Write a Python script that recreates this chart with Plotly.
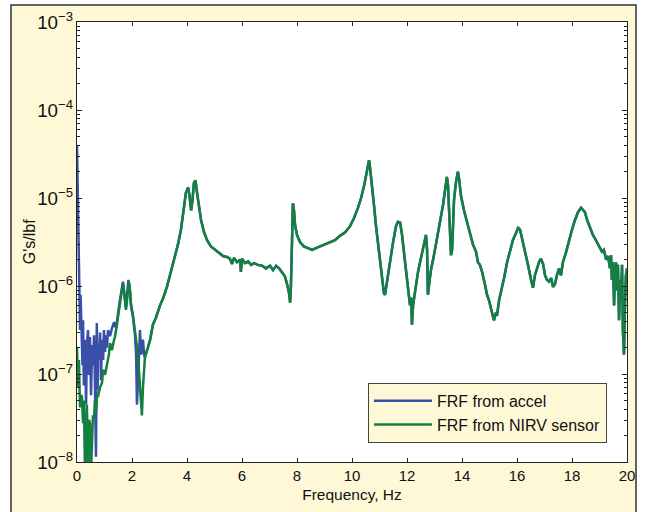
import numpy as np
import plotly.graph_objects as go

# ---- data (magnitudes given as log10 of G's/lbf) ----
# low-frequency part of the accelerometer FRF
accel_lo_freq = [0.0, 0.01, 0.02, 0.04, 0.05, 0.07, 0.09, 0.11, 0.13, 0.15, 0.18, 0.2, 0.22, 0.25,
                 0.29, 0.33, 0.36, 0.4, 0.44, 0.47, 0.51, 0.55, 0.58, 0.62, 0.65, 0.69, 0.72, 0.75,
                 0.76, 0.8, 0.84, 0.87, 0.91, 0.95, 0.98, 1.02, 1.05, 1.09, 1.13, 1.2, 1.27, 1.35,
                 1.42, 1.49, 1.56, 1.64, 1.67, 1.71, 1.75, 1.78, 1.82, 1.87, 1.93, 1.96, 2.04, 2.11,
                 2.15, 2.18, 2.22, 2.25, 2.29, 2.33, 2.36, 2.4, 2.44]
accel_lo_log = [-4.40, -4.57, -5.02, -5.48, -5.39, -5.82, -6.16, -6.5, -6.10, -6.39, -6.67, -6.90, -6.39, -7.13,
                -6.61, -7.35, -6.67, -6.5, -7.01, -6.58, -7.24, -6.67, -6.90, -6.56, -7.07, -7.94, -6.42, -7.18,
                -6.67, -6.84, -6.53, -7.07, -6.61, -6.84, -6.5, -6.75, -6.56, -6.70, -6.5, -6.57, -6.48, -6.41,
                -6.48, -6.30, -6.16, -6.01, -5.95, -6.07, -6.22, -6.25, -6.10, -5.93, -6.07, -6.22, -6.36, -6.56,
                -6.78, -7.35, -7.07, -6.73, -6.5, -6.78, -6.67, -6.61, -6.78]

# low-frequency part of the NIRV sensor FRF
nirv_lo_freq = [0.0, 0.02, 0.04, 0.07, 0.11, 0.15, 0.18, 0.22, 0.25, 0.29, 0.33, 0.36, 0.4, 0.44,
                0.47, 0.51, 0.55, 0.58, 0.62, 0.65, 0.69, 0.73, 0.76, 0.84, 0.91, 0.95, 1.02, 1.09,
                1.16, 1.2, 1.27, 1.35, 1.38, 1.45, 1.49, 1.56, 1.64, 1.67, 1.71, 1.75, 1.78, 1.82,
                1.85, 1.89, 1.93, 1.96, 2.04, 2.11, 2.18, 2.25, 2.29, 2.33, 2.36, 2.4, 2.44]
nirv_lo_log = [-6.69, -7.07, -7.15, -6.84, -7.38, -7.24, -7.26, -7.56, -7.30, -8.1, -7.64, -7.35, -8.1, -7.52,
               -7.56, -8.1, -7.75, -7.47, -7.52, -7.30, -7.44, -7.24, -7.26, -7.15, -7.10, -6.95, -7.01, -6.88,
               -6.78, -6.65, -6.73, -6.61, -6.58, -6.44, -6.35, -6.19, -6.05, -5.97, -6.05, -6.19, -6.27, -6.16,
               -6.02, -5.95, -6.05, -6.19, -6.35, -6.5, -6.69, -6.95, -7.18, -7.33, -7.47, -7.15, -6.90]

# above ~2.5 Hz both FRFs coincide
common_freq = [2.47, 2.55, 2.66, 2.76, 2.87, 3.02, 3.13, 3.27, 3.42, 3.56, 3.67, 3.78, 3.89, 3.96,
               4.04, 4.09, 4.15, 4.2, 4.25, 4.31, 4.36, 4.44, 4.51, 4.62, 4.73, 4.87, 5.02, 5.16,
               5.31, 5.45, 5.56, 5.64, 5.71, 5.82, 5.93, 5.96, 6.0, 6.11, 6.22, 6.33, 6.44, 6.58,
               6.73, 6.87, 7.02, 7.13, 7.24, 7.35, 7.45, 7.56, 7.64, 7.71, 7.75, 7.78, 7.82, 7.85,
               7.89, 7.93, 8.0, 8.11, 8.25, 8.4, 8.55, 8.69, 8.84, 9.02, 9.2, 9.38, 9.56, 9.75,
               9.93, 10.07, 10.22, 10.33, 10.44, 10.51, 10.58, 10.62, 10.65, 10.73, 10.8, 10.87, 10.95, 11.02,
               11.09, 11.16, 11.2, 11.27, 11.38, 11.49, 11.6, 11.67, 11.75, 11.82, 11.93, 12.04, 12.11, 12.15,
               12.18, 12.22, 12.29, 12.4, 12.51, 12.62, 12.69, 12.73, 12.76, 12.8, 12.87, 12.98, 13.09, 13.2,
               13.31, 13.38, 13.45, 13.49, 13.53, 13.56, 13.6, 13.64, 13.67, 13.71, 13.78, 13.85, 13.89, 13.96,
               14.07, 14.18, 14.29, 14.4, 14.51, 14.58, 14.65, 14.73, 14.84, 14.91, 14.98, 15.05, 15.13, 15.16,
               15.24, 15.27, 15.35, 15.42, 15.53, 15.64, 15.75, 15.85, 15.96, 16.04, 16.11, 16.18, 16.29, 16.4,
               16.51, 16.58, 16.65, 16.73, 16.8, 16.87, 16.95, 17.02, 17.09, 17.16, 17.24, 17.31, 17.38, 17.45,
               17.53, 17.6, 17.67, 17.78, 17.89, 18.0, 18.11, 18.22, 18.33, 18.4, 18.47, 18.55, 18.65, 18.76,
               18.87, 18.98, 19.09, 19.16, 19.24, 19.31, 19.38, 19.42, 19.45, 19.49, 19.53, 19.56, 19.6, 19.64,
               19.67, 19.71, 19.75, 19.78, 19.82, 19.85, 19.89, 19.93, 19.96, 20.0]
common_log = [-6.81, -6.73, -6.61, -6.44, -6.36, -6.22, -6.14, -6.01, -5.84, -5.68, -5.53, -5.36, -5.11, -4.94,
              -4.88, -4.97, -5.14, -5.02, -4.83, -4.80, -4.93, -5.11, -5.25, -5.39, -5.48, -5.55, -5.59, -5.63,
              -5.66, -5.67, -5.69, -5.75, -5.68, -5.73, -5.70, -5.84, -5.69, -5.74, -5.72, -5.76, -5.74, -5.76,
              -5.77, -5.80, -5.77, -5.82, -5.77, -5.80, -5.84, -5.89, -5.98, -6.08, -6.19, -5.99, -5.48, -5.06,
              -5.14, -5.31, -5.42, -5.50, -5.55, -5.57, -5.59, -5.57, -5.55, -5.53, -5.51, -5.48, -5.43, -5.39,
              -5.32, -5.23, -5.11, -5.00, -4.86, -4.74, -4.60, -4.57, -4.64, -4.85, -5.08, -5.31, -5.53, -5.76,
              -5.93, -6.08, -6.10, -5.95, -5.73, -5.51, -5.32, -5.27, -5.28, -5.42, -5.73, -6.05, -6.22, -6.13,
              -6.44, -6.22, -6.05, -5.84, -5.68, -5.53, -5.42, -5.59, -6.10, -5.99, -5.82, -5.65, -5.48, -5.27,
              -5.08, -4.91, -4.76, -4.85, -5.19, -5.48, -5.65, -5.59, -5.31, -5.02, -4.82, -4.70, -4.77, -4.97,
              -5.14, -5.27, -5.42, -5.53, -5.61, -5.73, -5.76, -5.84, -5.99, -6.10, -6.16, -6.25, -6.33, -6.39,
              -6.30, -6.34, -6.16, -6.07, -5.91, -5.73, -5.59, -5.48, -5.40, -5.34, -5.36, -5.45, -5.59, -5.76,
              -5.93, -6.02, -5.88, -5.80, -5.73, -5.69, -5.75, -5.88, -5.93, -5.95, -5.91, -6.01, -5.98, -5.88,
              -5.80, -5.88, -5.73, -5.62, -5.48, -5.36, -5.25, -5.16, -5.11, -5.14, -5.16, -5.25, -5.34, -5.42,
              -5.48, -5.55, -5.61, -5.59, -5.70, -5.66, -5.80, -5.65, -5.93, -5.73, -6.22, -5.88, -5.73, -6.05,
              -5.76, -6.39, -5.93, -6.16, -5.76, -6.50, -6.78, -6.16, -5.88, -5.80]

series_names = ["FRF from accel", "FRF from NIRV sensor"]
x_ticks = [0, 2, 4, 6, 8, 10, 12, 14, 16, 18, 20]
x_title = "Frequency, Hz"
y_title = "G's/lbf"

accel_freq = accel_lo_freq + common_freq
accel_val = np.power(10.0, np.array(accel_lo_log + common_log))
nirv_freq = nirv_lo_freq + common_freq
nirv_val = np.power(10.0, np.array(nirv_lo_log + common_log))

BLUE = "#3A4FA8"
GREEN = "#13803F"
CREAM = "#FFF8D6"
FONT = "Liberation Sans, Arial, sans-serif"

fig = go.Figure()
fig.add_trace(go.Scatter(x=accel_freq, y=accel_val, mode="lines", name=series_names[0],
                         line=dict(color=BLUE, width=2.5)))
fig.add_trace(go.Scatter(x=nirv_freq, y=nirv_val, mode="lines", name=series_names[1],
                         line=dict(color=GREEN, width=2.5)))

fig.update_layout(
    width=648, height=512,
    margin=dict(l=77, r=21, t=22, b=50),
    paper_bgcolor="white",
    plot_bgcolor="white",
    font=dict(family=FONT, size=14, color="#111111"),
    showlegend=True,
    legend=dict(x=0.529, y=0.18, xanchor="left", yanchor="top",
                bgcolor=CREAM, bordercolor="#444444", borderwidth=1,
                font=dict(size=16, family=FONT), itemwidth=58,
                tracegroupgap=0),
    shapes=[
        dict(type="rect", xref="paper", yref="paper", x0=-0.12, x1=1.0164, y0=-0.2, y1=1.0386,
             fillcolor=CREAM, line=dict(color="#333333", width=1.5), layer="below"),
        dict(type="rect", xref="paper", yref="paper", x0=0, x1=1, y0=0, y1=1,
             fillcolor="white", line=dict(width=0), layer="below"),
    ],
    annotations=[
        dict(text=y_title, xref="paper", yref="paper", x=-0.087, y=0.5, xanchor="center",
             yanchor="middle", textangle=-90, showarrow=False, font=dict(size=16, family=FONT)),
    ],
)

fig.update_xaxes(
    range=[0, 20], tickvals=x_ticks, ticks="inside", ticklen=4, tickcolor="#222222",
    showline=True, linecolor="#222222", linewidth=1, mirror="ticks", automargin=False,
    showgrid=False, zeroline=False, tickfont=dict(size=15),
    title=dict(text=x_title, font=dict(size=15.5), standoff=6),
)
fig.update_yaxes(
    type="log", range=[-8, -3], dtick=1, exponentformat="power",
    ticks="inside", ticklen=5, tickcolor="#222222", automargin=False,
    minor=dict(ticks="inside", ticklen=3, tickcolor="#222222", showgrid=False),
    showline=True, linecolor="#222222", linewidth=1, mirror="ticks",
    showgrid=False, zeroline=False, tickfont=dict(size=15),
)

fig.write_html("out.html", config={"displayModeBar": False},
               post_script="document.body.style.margin='0px';")
